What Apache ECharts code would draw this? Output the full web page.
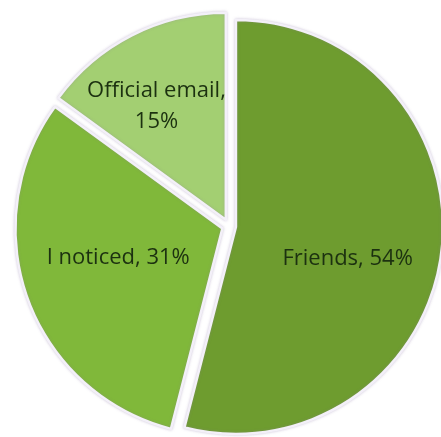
<!DOCTYPE html>
<html>
<head>
<meta charset="utf-8">
<script src="https://cdn.jsdelivr.net/npm/echarts@6/dist/echarts.min.js"></script>
<style>
  html, body { margin: 0; padding: 0; background: #ffffff; }
  #chart { width: 441px; height: 437px; }
</style>
</head>
<body>
<div id="chart"></div>
<script>
// Where people heard about it (share of responses, %)
const categories = ['Friends', 'I noticed', 'Official email'];
const shares = [54, 31, 15];
const sliceColors = ['#6e9c2f', '#80b83a', '#a3cf72'];
// label nudges from the default inside position, per slice
const labelShifts = [[6, 19], [-4, -7], [-21, -19]];

const chart = echarts.init(document.getElementById('chart'), null, { renderer: 'canvas' });

const data = categories.map((name, i) => ({
  name: name,
  value: shares[i],
  selected: true,
  itemStyle: { color: sliceColors[i] }
}));

chart.setOption({
  animation: false,
  backgroundColor: '#ffffff',
  series: [{
    type: 'pie',
    center: [229, 226],
    radius: 207,
    startAngle: 90,
    clockwise: true,
    selectedMode: 'multiple',
    selectedOffset: 7,
    avoidLabelOverlap: false,
    emphasis: { disabled: true },
    itemStyle: {
      borderColor: '#f3f0f8',
      borderWidth: 2.5,
      shadowColor: 'rgba(140,120,170,0.35)',
      shadowBlur: 3
    },
    label: {
      show: true,
      position: 'inside',
      fontFamily: 'Open Sans',
      fontSize: 22,
      lineHeight: 31,
      color: '#1c3110',
      align: 'center',
      formatter: p => p.dataIndex === 2 ? p.name + ',\n' + p.value + '%' : p.name + ', ' + p.value + '%'
    },
    labelLayout: p => ({ dx: labelShifts[p.dataIndex][0], dy: labelShifts[p.dataIndex][1] }),
    labelLine: { show: false },
    data: data
  }]
});
</script>
</body>
</html>
